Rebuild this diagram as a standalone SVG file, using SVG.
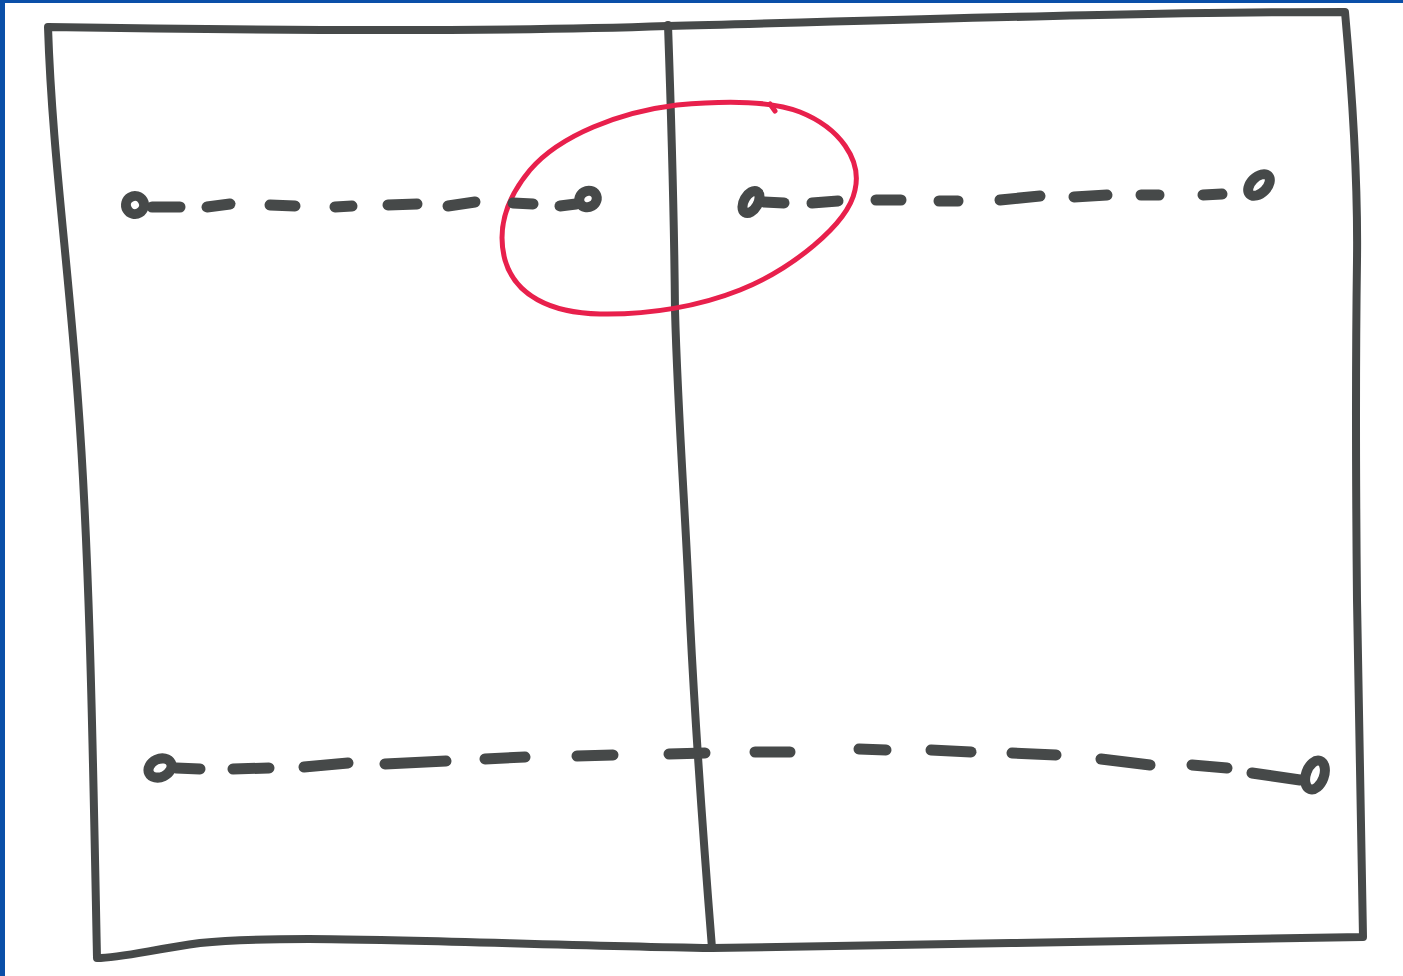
<svg xmlns="http://www.w3.org/2000/svg" width="1403" height="976" viewBox="0 0 1403 976">
<style>
.ink{fill:none;stroke:#464949;stroke-width:8;stroke-linecap:round;stroke-linejoin:round}
.dash{fill:none;stroke:#464949;stroke-width:11;stroke-linecap:round}
.pt{fill:none;stroke:#464949;stroke-width:10}
.red{fill:none;stroke:#e8204c;stroke-width:5;stroke-linecap:round}
</style>
<rect x="0" y="0" width="1403" height="976" fill="#ffffff"/>
<rect x="0" y="0" width="5" height="976" fill="#0a4fa8"/>
<rect x="0" y="0" width="1403" height="3" fill="#0a4fa8"/>
<g id="frame">
<path class="ink" d="M48,27 C300,31 500,32 668,26 C900,20 1150,12 1345,12 C1352,90 1358,180 1357,260 C1355,400 1356,500 1357,600 C1359,720 1362,830 1363,937 C1200,940 900,945 712,948 C500,945 300,933 200,943 C150,950 120,958 97,958 C93,760 90,560 78,400 C68,260 52,150 48,27 Z"/>
</g>
<g id="divider">
<path class="ink" d="M668,25 C671,110 674,200 675,310 C678,420 686,520 690,620 C697,760 705,860 712,948"/>
</g>
<g id="highlight">
<path class="red" d="M677,105 C720,101 770,100 800,112 C840,128 862,160 855,190 C848,225 790,270 740,290 C700,306 650,315 600,314 C550,313 515,295 505,260 C497,230 505,200 530,170 C560,135 620,112 677,105 Z"/>
<path class="red" d="M770,104 L775,111"/>
</g>
<g id="connectors">
<path class="dash" d="M152,207 L180,207"/>
<path class="dash" d="M207,207 L230,204"/>
<path class="dash" d="M270,205 L295,206"/>
<path class="dash" d="M335,207 L352,206"/>
<path class="dash" d="M388,205 L417,204"/>
<path class="dash" d="M448,206 L475,202"/>
<path class="dash" d="M513,203 L533,204"/>
<path class="dash" d="M560,206 L576,204"/>

<path class="dash" d="M764,202 L784,203"/>
<path class="dash" d="M812,203 L838,201"/>
<path class="dash" d="M876,200 L901,200"/>
<path class="dash" d="M939,201 L958,201"/>
<path class="dash" d="M1000,200 L1040,196"/>
<path class="dash" d="M1074,197 L1107,195"/>
<path class="dash" d="M1141,195 L1159,195"/>
<path class="dash" d="M1203,195 L1222,194"/>

<path class="dash" d="M176,768 L200,769"/>
<path class="dash" d="M233,769 L269,768"/>
<path class="dash" d="M304,767 L348,763"/>
<path class="dash" d="M385,764 L446,761"/>
<path class="dash" d="M485,759 L525,757"/>
<path class="dash" d="M577,756 L613,755"/>
<path class="dash" d="M669,754 L705,753"/>
<path class="dash" d="M755,752 L790,752"/>
<path class="dash" d="M859,749 L886,750"/>
<path class="dash" d="M931,750 L971,752"/>
<path class="dash" d="M1012,753 L1056,755"/>
<path class="dash" d="M1101,759 L1150,765"/>
<path class="dash" d="M1192,765 L1227,768"/>
<path class="dash" d="M1252,773 L1300,780"/>
</g>
<g id="n1"><ellipse class="pt" cx="135" cy="205" rx="9" ry="9" transform="rotate(-30 135 205)"/></g>
<g id="n2"><ellipse class="pt" cx="588" cy="199" rx="9" ry="8" transform="rotate(-30 588 199)"/></g>
<g id="n3"><ellipse class="pt" cx="751" cy="202" rx="7" ry="12" transform="rotate(30 751 202)"/></g>
<g id="n4"><ellipse class="pt" cx="1259" cy="185" rx="8" ry="13" transform="rotate(45 1259 185)"/></g>
<g id="n5"><ellipse class="pt" cx="160" cy="768" rx="12" ry="9" transform="rotate(-25 160 768)"/></g>
<g id="n6"><ellipse class="pt" cx="1315" cy="775" rx="9" ry="15" transform="rotate(20 1315 775)"/></g>
</svg>
